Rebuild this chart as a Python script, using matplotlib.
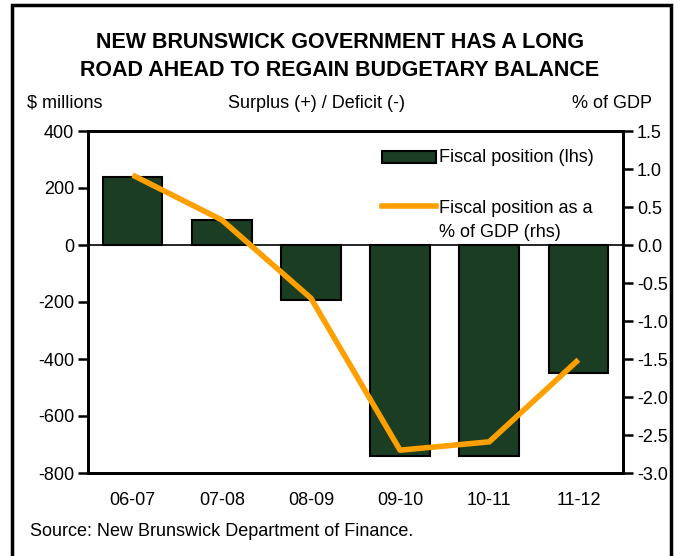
import matplotlib
matplotlib.use("Agg")
import matplotlib.pyplot as plt
from matplotlib.patches import Rectangle
from matplotlib.lines import Line2D

plt.rcParams['font.family'] = ['Liberation Sans', 'DejaVu Sans']
plt.rcParams['axes.unicode_minus'] = False

# data
years = ['06-07', '07-08', '08-09', '09-10', '10-11', '11-12']
fiscal_mil = [238, 88, -193, -740, -740, -450]
fiscal_pct = [0.92, 0.33, -0.70, -2.70, -2.59, -1.51]

bar_col = '#1a3d23'
line_col = '#ff9f00'
fs = 13

fig = plt.figure(figsize=(6.8, 5.56), dpi=100)

# outer frame
fig.patches.append(Rectangle((12/680, -0.05), 659/680, 1.05 - 5/556,
                             transform=fig.transFigure, fill=False,
                             edgecolor='black', linewidth=2.5))

ax = fig.add_axes([88/680, 1 - 473/556, 535/680, 342/556])
x = range(len(years))
ax.bar(x, fiscal_mil, width=0.67, color=bar_col, edgecolor='black', linewidth=1.5, zorder=2)
ax.axhline(0, color='black', linewidth=1.2, zorder=3)
ax.set_xlim(-0.5, len(years) - 0.5)
ax.set_ylim(-800, 400)
ax.set_yticks(range(-800, 401, 200))
ax.set_xticks(list(x))
ax.set_xticklabels(years)
ax.tick_params(axis='x', length=0, pad=14, labelsize=fs)
ax.tick_params(axis='y', direction='out', length=7, width=1.8, labelsize=fs, pad=3)
for s in ax.spines.values():
    s.set_linewidth(2)

ax2 = ax.twinx()
ax2.plot(x, fiscal_pct, color=line_col, linewidth=4, solid_capstyle='butt', zorder=4)
ax2.set_ylim(-3.0, 1.5)
rticks = [1.5, 1.0, 0.5, 0.0, -0.5, -1.0, -1.5, -2.0, -2.5, -3.0]
ax2.set_yticks(rticks)
ax2.set_yticklabels(['%.1f' % v for v in rticks])
ax2.tick_params(axis='y', direction='out', length=7, width=1.8, labelsize=fs, pad=3)
for s in ax2.spines.values():
    s.set_linewidth(2)

# legend drawn by hand to match the layout
ax.add_patch(Rectangle((0.55, 0.905), 0.10, 0.037, transform=ax.transAxes,
                       facecolor=bar_col, edgecolor='black', linewidth=1.5, zorder=5))
ax.text(0.657, 0.923, 'Fiscal position (lhs)', transform=ax.transAxes,
        fontsize=fs, va='center', ha='left')
ax.add_line(Line2D([0.55, 0.65], [0.78, 0.78], transform=ax.transAxes,
                   color=line_col, linewidth=4, zorder=5))
ax.text(0.657, 0.773, 'Fiscal position as a', transform=ax.transAxes,
        fontsize=fs, va='center', ha='left')
ax.text(0.657, 0.703, '% of GDP (rhs)', transform=ax.transAxes,
        fontsize=fs, va='center', ha='left')

fig.text(0.5, 1 - 43/556, 'NEW BRUNSWICK GOVERNMENT HAS A LONG', ha='center', va='center',
         fontsize=15.5, fontweight='bold')
fig.text(0.5, 1 - 70/556, 'ROAD AHEAD TO REGAIN BUDGETARY BALANCE', ha='center', va='center',
         fontsize=15.5, fontweight='bold')
fig.text(27/680, 1 - 103/556, '$ millions', ha='left', va='center', fontsize=fs)
fig.text(316/680, 1 - 103/556, 'Surplus (+) / Deficit (-)', ha='center', va='center', fontsize=fs)
fig.text(652/680, 1 - 103/556, '% of GDP', ha='right', va='center', fontsize=fs)
fig.text(30/680, 1 - 531/556, 'Source: New Brunswick Department of Finance.', ha='left',
         va='center', fontsize=fs)

fig.savefig('out.png', dpi=100)
